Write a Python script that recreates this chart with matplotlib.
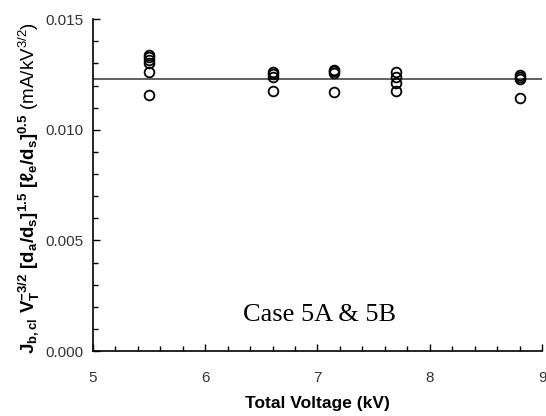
import matplotlib
matplotlib.use("Agg")
import matplotlib.pyplot as plt
from matplotlib.ticker import MultipleLocator

plt.rcParams['font.family'] = ['Liberation Sans', 'DejaVu Sans']
plt.rcParams['mathtext.fontset'] = 'custom'
plt.rcParams['mathtext.rm'] = 'Liberation Sans'
plt.rcParams['mathtext.it'] = 'Liberation Sans:italic'
plt.rcParams['mathtext.bf'] = 'Liberation Sans:bold'

# Normalized current density measurements at each total voltage
voltage = [5.5] * 6 + [6.6] * 4 + [7.15] * 4 + [7.7] * 4 + [8.8] * 4
j_norm = [0.01337, 0.01327, 0.01315, 0.01303, 0.01262, 0.01157,
          0.01262, 0.01252, 0.01237, 0.01176,
          0.01270, 0.01264, 0.01257, 0.01172,
          0.01262, 0.01239, 0.01210, 0.01176,
          0.01247, 0.01237, 0.01228, 0.01142]
fit_level = 0.01228
x_range = [5, 9]

fig = plt.figure(figsize=(5.46, 4.16), dpi=100)
ax = fig.add_axes([0.170, 0.156, 0.823, 0.798])

ax.plot(x_range, [fit_level, fit_level], color='#555555', lw=1.3, zorder=2)
ax.plot(voltage, j_norm, ls='none', marker='o', ms=7, mfc='none',
        mec='black', mew=1.3, zorder=3)

ax.set_xlim(5, 9)
ax.set_ylim(0, 0.015)
ax.xaxis.set_major_locator(MultipleLocator(1))
ax.xaxis.set_minor_locator(MultipleLocator(0.2))
ax.yaxis.set_major_locator(MultipleLocator(0.005))
ax.yaxis.set_minor_locator(MultipleLocator(0.001))
ax.yaxis.set_major_formatter(plt.FormatStrFormatter('%.3f'))
ax.xaxis.set_major_formatter(plt.FormatStrFormatter('%d'))

for s in ('top', 'right'):
    ax.spines[s].set_visible(False)
for s in ('left', 'bottom'):
    ax.spines[s].set_linewidth(1.2)

ax.tick_params(which='both', direction='in', width=1.0, labelsize=11,
               labelcolor='#333333')
ax.tick_params(axis='x', pad=14)
ax.tick_params(axis='y', pad=7)
ax.tick_params(which='major', length=5)
ax.tick_params(which='minor', length=3.5)

ax.set_xlabel('Total Voltage (kV)', fontsize=12.5, fontweight='bold', labelpad=8)
ax.set_ylabel(r'$\mathbf{J_{b,cl}\ V_T^{-3/2}\ [d_a/d_s]^{1.5}\ [\ell_e/d_s]^{0.5}}$ (mA/kV$^{3/2}$)',
              fontsize=13.5, labelpad=3)
ax.yaxis.set_label_coords(-0.115, 0.49)

ax.text(7.02, 0.00163, 'Case 5A & 5B', family='Liberation Serif', fontsize=19,
        ha='center', va='center')

fig.savefig('out.png', dpi=100)
